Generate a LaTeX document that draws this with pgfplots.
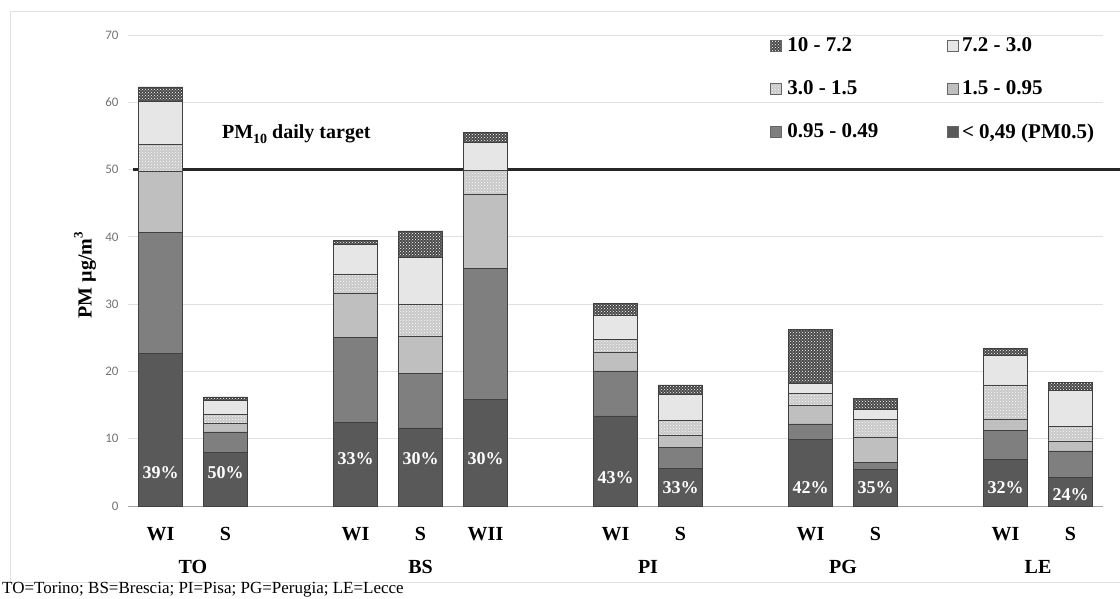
\documentclass[border=0pt]{standalone}
\usepackage{fontspec}
\setmainfont{Liberation Serif}
\newfontfamily\calibri{Carlito}
\usepackage{pgfplots}
\usepackage{pgfplotstable}
\pgfplotsset{compat=1.18}
\usetikzlibrary{patterns}
\definecolor{cA}{HTML}{595959}
\definecolor{cB}{HTML}{7F7F7F}
\definecolor{cC}{HTML}{BFBFBF}
\definecolor{cD}{HTML}{C8C8C8}
\definecolor{cE}{HTML}{E6E6E6}
\definecolor{cF}{HTML}{4A4A4A}
\pgfplotstableread{
x a b c d e f
0 22.7 18.0 9.1 4.0 6.3 2.2
1 8.0 3.0 1.3 1.3 2.1 0.5
3 12.4 12.7 6.5 2.9 4.4 0.6
4 11.6 8.1 5.6 4.7 7.0 3.9
5 15.9 19.4 11.1 3.5 4.1 1.5
7 13.4 6.7 2.7 2.0 3.6 1.7
8 5.6 3.1 1.75 2.35 3.8 1.4
10 9.9 2.3 2.8 1.75 1.45 8.1
11 5.45 1.05 3.7 2.7 1.5 1.6
13 6.95 4.25 1.7 5.1 4.4 1.0
14 4.25 3.95 1.5 2.1 5.4 1.2
}\data
\pgfplotsset{sqlegend/.style={legend image code/.code={\draw[##1, draw=black!60, line width=0.6pt] (0pt,-5.5pt) rectangle (11pt,5.5pt);}}}
\tikzset{pct/.style={font=\bfseries\fontsize{18}{22}\selectfont, text=white}}
\begin{document}
\begin{tikzpicture}
\useasboundingbox (0,0) rectangle (1120pt,598pt);
\draw[black!12, line width=1pt] (1130pt,586pt) -- (10pt,586pt) -- (10pt,16pt) -- (1130pt,16pt);
\begin{axis}[
  at={(128pt,92pt)}, anchor=south west,
  scale only axis, width=975pt, height=471pt,
  xmin=-0.5, xmax=14.5, ymin=0, ymax=70,
  ybar stacked, bar width=0.68,
  sqlegend,
  clip=false,
  axis x line*=bottom, axis y line*=left,
  y axis line style={draw=none},
  x axis line style={black!35, line width=1pt},
  ymajorgrids, grid style={black!12, line width=1pt},
  ytick={0,10,20,30,40,50,60,70},
  yticklabels={0,10,20,30,40,50,60,70},
  ytick style={draw=none},
  yticklabel style={font=\calibri\fontsize{13}{15}\selectfont, text=black!55, xshift=-6pt},
  xtick={0,1,3,4,5,7,8,10,11,13,14},
  xticklabels={WI,S,WI,S,WII,WI,S,WI,S,WI,S},
  xtick style={draw=none},
  xticklabel style={font=\bfseries\fontsize{20}{24}\selectfont, yshift=-18pt},
  extra x ticks={0.5,4,7.5,10.5,13.5},
  extra x tick labels={TO,BS,PI,PG,LE},
  extra x tick style={xticklabel style={yshift=-33pt}},
  ylabel={PM µg/m\raisebox{0.45em}{\fontsize{13}{13}\selectfont 3}},
  ylabel style={font=\bfseries\fontsize{20}{24}\selectfont, at={(axis description cs:-0.044,0.49)}, anchor=center},
  legend columns=2, reverse legend,
  legend cell align=left,
  legend style={draw=none, fill=none, at={(0.655,1.003)}, anchor=north west,
    font=\bfseries\fontsize{21}{25}\selectfont, row sep=23.5pt,
    /tikz/column 1/.style={column sep=4pt},
    /tikz/column 3/.style={column sep=1pt},
    /tikz/column 2/.style={column sep=67pt}},
]
\addplot[fill=cA, draw=black!75] table[x=x,y=a]{\data};
\addlegendentry{< 0,49 (PM0.5)}
\addplot[fill=cB, draw=black!75] table[x=x,y=b]{\data};
\addlegendentry{0.95 - 0.49}
\addplot[fill=cC, draw=black!75] table[x=x,y=c]{\data};
\addlegendentry{1.5 - 0.95}
\addplot[fill=cD, draw=black!75, postaction={pattern=crosshatch dots, pattern color=white}] table[x=x,y=d]{\data};
\addlegendentry{3.0 - 1.5}
\addplot[fill=cE, draw=black!75] table[x=x,y=e]{\data};
\addlegendentry{7.2 - 3.0}
\addplot[fill=cF, draw=black!75, postaction={pattern=crosshatch dots, pattern color=white}] table[x=x,y=f]{\data};
\addlegendentry{10 - 7.2}
\draw[black!85, line width=3pt] (axis cs:-0.42,50) -- (axis cs:14.8,50);
\node[font=\bfseries\fontsize{20}{24}\selectfont] at (axis cs:2.09,55.3) {PM\raisebox{-0.25em}{\fontsize{14}{14}\selectfont 10} daily target};
\coordinate (p1) at (axis cs:0,4.9);
\coordinate (p2) at (axis cs:1,4.9);
\coordinate (p3) at (axis cs:3,7.0);
\coordinate (p4) at (axis cs:4,7.1);
\coordinate (p5) at (axis cs:5,7.1);
\coordinate (p6) at (axis cs:7,4.2);
\coordinate (p7) at (axis cs:8,2.8);
\coordinate (p8) at (axis cs:10,2.8);
\coordinate (p9) at (axis cs:11,2.8);
\coordinate (p10) at (axis cs:13,2.8);
\coordinate (p11) at (axis cs:14,1.7);
\end{axis}
\node[pct] at (p1) {39\%};
\node[pct] at (p2) {50\%};
\node[pct] at (p3) {33\%};
\node[pct] at (p4) {30\%};
\node[pct] at (p5) {30\%};
\node[pct] at (p6) {43\%};
\node[pct] at (p7) {33\%};
\node[pct] at (p8) {42\%};
\node[pct] at (p9) {35\%};
\node[pct] at (p10) {32\%};
\node[pct] at (p11) {24\%};
\node[anchor=west, inner sep=0pt, font=\fontsize{17}{19}\selectfont] at (2pt,8pt) {TO=Torino; BS=Brescia; PI=Pisa; PG=Perugia; LE=Lecce};
\end{tikzpicture}
\end{document}
